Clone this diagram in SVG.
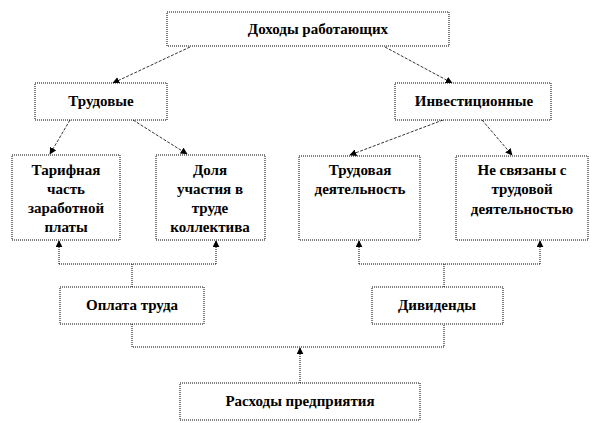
<svg xmlns="http://www.w3.org/2000/svg" width="600" height="423" viewBox="0 0 600 423">
<style>
.box{fill:#fff;stroke:#000;stroke-width:1;stroke-dasharray:1 1}
.t{font-family:'Liberation Serif','Times New Roman',serif;font-weight:bold;font-size:15px;text-anchor:middle;fill:#000}
.dash{fill:none;stroke:#000;stroke-width:0.8;stroke-dasharray:3 1.5}
.dot{fill:none;stroke:#000;stroke-width:1;stroke-dasharray:1 1}
</style>
<defs>
<marker id="ah" viewBox="0 0 10 10" refX="9" refY="5" markerWidth="7" markerHeight="7" markerUnits="userSpaceOnUse" orient="auto">
<path d="M0,0 L10,5 L0,10 Z" fill="#000"/>
</marker>
</defs>
<rect width="600" height="423" fill="#fff"/>
<g id="connectors">
<line class="dash" x1="190" y1="47" x2="113" y2="83" marker-end="url(#ah)"/>
<line class="dash" x1="385" y1="47" x2="452" y2="83" marker-end="url(#ah)"/>
<line class="dash" x1="70" y1="120" x2="50" y2="154" marker-end="url(#ah)"/>
<line class="dash" x1="133" y1="120" x2="187" y2="154" marker-end="url(#ah)"/>
<line class="dash" x1="443" y1="120" x2="350" y2="155" marker-end="url(#ah)"/>
<line class="dash" x1="482" y1="120" x2="512" y2="155" marker-end="url(#ah)"/>
<polyline class="dot" points="132,287 132,264"/>
<polyline class="dot" points="59,264 216,264"/>
<line class="dot" x1="59" y1="264" x2="59" y2="241" marker-end="url(#ah)"/>
<line class="dot" x1="216" y1="264" x2="216" y2="241" marker-end="url(#ah)"/>
<polyline class="dot" points="444,287 444,264"/>
<polyline class="dot" points="359,264 540,264"/>
<line class="dot" x1="359" y1="264" x2="359" y2="241" marker-end="url(#ah)"/>
<line class="dot" x1="540" y1="264" x2="540" y2="241" marker-end="url(#ah)"/>
<polyline class="dot" points="132,324 132,347 444,347 444,324"/>
<line class="dot" x1="300" y1="383" x2="300" y2="348" marker-end="url(#ah)"/>
</g>
<g id="n-top"><rect class="box" x="167" y="12" width="282" height="34"/><text class="t" x="318" y="34">Доходы работающих</text></g>
<g id="n-trud"><rect class="box" x="35" y="83" width="132" height="37"/><text class="t" x="101" y="106">Трудовые</text></g>
<g id="n-invest"><rect class="box" x="395" y="83" width="156" height="37"/><text class="t" x="474" y="106">Инвестиционные</text></g>
<g id="n-tarif"><rect class="box" x="12" y="155" width="108" height="85"/>
<text class="t" x="66" y="175">Тарифная</text><text class="t" x="66" y="194">часть</text><text class="t" x="66" y="213">заработной</text><text class="t" x="66" y="232">платы</text></g>
<g id="n-dolya"><rect class="box" x="156" y="155" width="109" height="85"/>
<text class="t" x="210" y="175">Доля</text><text class="t" x="210" y="194">участия в</text><text class="t" x="210" y="213">труде</text><text class="t" x="210" y="232">коллектива</text></g>
<g id="n-trudd"><rect class="box" x="299" y="156" width="121" height="84"/>
<text class="t" x="360" y="175">Трудовая</text><text class="t" x="360" y="194">деятельность</text></g>
<g id="n-nesv"><rect class="box" x="456" y="156" width="132" height="84"/>
<text class="t" x="522" y="175">Не связаны с</text><text class="t" x="522" y="194">трудовой</text><text class="t" x="522" y="214">деятельностью</text></g>
<g id="n-oplata"><rect class="box" x="60" y="287" width="144" height="37"/><text class="t" x="132" y="310">Оплата труда</text></g>
<g id="n-divid"><rect class="box" x="372" y="287" width="131" height="37"/><text class="t" x="437" y="310">Дивиденды</text></g>
<g id="n-rashod"><rect class="box" x="180" y="383" width="240" height="37"/><text class="t" x="300" y="406">Расходы предприятия</text></g>
</svg>
